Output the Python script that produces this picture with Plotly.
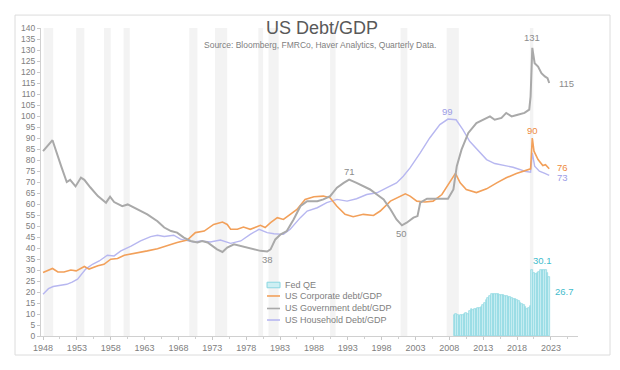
import plotly.graph_objects as go

# ---------------- data ----------------
gov_x = [1948.0, 1949.4, 1950.7, 1951.5, 1952.0, 1952.8, 1953.6, 1954.1, 1955.0, 1956.1,
         1957.3, 1957.9, 1958.5, 1959.2, 1959.7, 1960.5, 1961.4, 1962.4, 1963.4, 1964.9,
         1965.9, 1966.9, 1967.8, 1968.8, 1969.8, 1970.8, 1971.5, 1972.3, 1973.7, 1974.5,
         1975.2, 1976.2, 1977.2, 1978.1, 1979.1, 1980.1, 1981.1, 1981.6, 1982.3, 1983.1,
         1984.0, 1985.0, 1986.0, 1987.0, 1988.5, 1989.4, 1990.4, 1991.4, 1992.4, 1993.2,
         1994.3, 1995.3, 1996.3, 1997.3, 1998.3, 1999.3, 2000.2, 2001.0, 2001.7, 2002.7,
         2003.3, 2003.7, 2004.7, 2006.6, 2007.8, 2008.6, 2009.1, 2009.8, 2010.8, 2012.0,
         2013.0, 2014.0, 2014.7, 2015.7, 2016.4, 2017.2, 2018.1, 2019.1, 2019.8, 2020.0,
         2020.25, 2020.6, 2021.1, 2021.6, 2022.1, 2022.5, 2022.75]
gov_y = [84, 89, 77, 70, 71, 68, 72, 71, 67.5, 63.6,
         60.6, 63.3, 60.9, 59.8, 59.0, 59.8, 58.3, 56.8, 55.3, 52.2,
         49.3, 47.7, 47.0, 44.7, 43.2, 42.5, 43.2, 42.5, 39.4, 38.2,
         40.2, 41.7, 40.9, 40.2, 39.4, 38.7, 38.4, 39.4, 43.9, 46.2,
         47.7, 53.0, 59.0, 61.3, 61.3, 62.1, 63.6, 67.4, 69.6, 71.1,
         69.6, 68.1, 66.6, 64.3, 62.1, 57.6, 53.0, 50.3, 51.5, 53.8,
         54.5, 60.6, 62.4, 62.4, 62.4, 66.6, 77.2, 84.7, 92.3, 96.8,
         98.3, 99.8, 98.3, 99.1, 101.4, 99.8, 100.6, 101.4, 102.9, 108.9,
         131, 124, 122.5, 119.5, 118, 117.2, 115]

corp_x = [1948.0, 1949.4, 1950.2, 1951.1, 1952.1, 1952.9, 1954.1, 1954.8, 1956.1, 1957.0,
          1958.0, 1959.0, 1960.0, 1961.0, 1962.0, 1963.4, 1964.9, 1966.4, 1967.8, 1969.3,
          1970.5, 1971.8, 1973.2, 1974.5, 1975.2, 1975.7, 1976.7, 1977.6, 1978.6, 1980.1,
          1980.8, 1981.6, 1982.6, 1983.5, 1984.5, 1985.5, 1986.7, 1988.0, 1989.4, 1990.4,
          1991.4, 1992.6, 1993.8, 1995.3, 1996.8, 1997.8, 1999.3, 2000.7, 2001.5, 2002.2,
          2003.2, 2004.4, 2005.6, 2006.9, 2008.1, 2008.9, 2009.6, 2010.5, 2012.0, 2013.5,
          2015.0, 2016.4, 2017.9, 2019.6, 2020.0, 2020.25, 2020.5, 2021.1, 2021.8, 2022.2,
          2022.75]
corp_y = [28.9, 30.7, 29.1, 29.1, 30.0, 29.6, 31.6, 30.4, 31.9, 32.6,
          34.9, 35.2, 36.7, 37.2, 37.9, 38.7, 39.7, 41.2, 42.5, 43.6,
          47.0, 47.7, 50.7, 51.8, 50.7, 48.5, 48.5, 49.5, 48.5, 50.3,
          49.3, 51.5, 53.8, 53.0, 55.3, 57.5, 62.1, 63.3, 63.6, 62.8,
          59.0, 55.3, 54.2, 55.3, 54.8, 56.8, 61.3, 63.6, 64.6, 63.6,
          61.3, 60.9, 61.3, 64.3, 70.4, 73.9, 69.6, 66.6, 65.2, 66.9,
          69.6, 71.9, 73.9, 75.4, 76.0, 90, 84, 80.2, 77.5, 77.9,
          76]

hh_x = [1948.0, 1948.8, 1949.5, 1950.5, 1951.5, 1952.3, 1953.1, 1954.3, 1955.3, 1956.3,
        1957.5, 1958.5, 1959.5, 1961.0, 1962.4, 1963.9, 1964.9, 1965.9, 1967.3, 1968.3,
        1969.3, 1970.3, 1971.3, 1972.7, 1974.2, 1975.7, 1977.2, 1978.6, 1979.9, 1981.1,
        1982.1, 1983.5, 1984.5, 1986.0, 1987.0, 1988.5, 1989.9, 1991.4, 1992.9, 1994.3,
        1995.8, 1997.3, 1998.8, 2000.2, 2001.2, 2002.2, 2003.7, 2005.1, 2006.6, 2007.8,
        2009.0, 2010.0, 2011.0, 2012.3, 2013.5, 2014.7, 2016.2, 2017.4, 2018.4, 2019.1,
        2020.0, 2020.25, 2020.6, 2021.3, 2022.1, 2022.75]
hh_y = [19, 21.5, 22.5, 23, 23.5, 24.5, 25.8, 30.4, 32.6, 34.1,
        36.7, 36.4, 38.7, 40.9, 43.2, 45.2, 45.8, 45.2, 45.8, 44.0,
        43.2, 42.7, 43.2, 42.7, 43.6, 42.1, 43.2, 46.2, 48.5, 47.0,
        46.5, 46.2, 48.5, 53.8, 56.8, 58.3, 60.6, 62.1, 61.3, 62.4,
        64.3, 65.1, 67.4, 69.6, 72.6, 76.4, 83.2, 90.0, 96.1, 98.6,
        98.3, 93.8, 88.5, 84.0, 80.2, 78.4, 77.5, 76.7, 75.7, 74.9,
        74.5, 83.2, 77.2, 74.9, 73.9, 73]

qe_quarters = ["2008Q4",
               "2009Q1", "2009Q2", "2009Q3", "2009Q4", "2010Q1", "2010Q2", "2010Q3", "2010Q4",
               "2011Q1", "2011Q2", "2011Q3", "2011Q4", "2012Q1", "2012Q2", "2012Q3", "2012Q4",
               "2013Q1", "2013Q2", "2013Q3", "2013Q4", "2014Q1", "2014Q2", "2014Q3", "2014Q4",
               "2015Q1", "2015Q2", "2015Q3", "2015Q4", "2016Q1", "2016Q2", "2016Q3", "2016Q4",
               "2017Q1", "2017Q2", "2017Q3", "2017Q4", "2018Q1", "2018Q2", "2018Q3", "2018Q4",
               "2019Q1", "2019Q2", "2019Q3", "2019Q4", "2020Q1", "2020Q2", "2020Q3", "2020Q4",
               "2021Q1", "2021Q2", "2021Q3", "2021Q4", "2022Q1", "2022Q2", "2022Q3", "2022Q4"]
qe_vals = [9.5,
           9.8, 9.4, 9.2, 9.4, 9.6, 10.0, 10.4, 10.2,
           11.2, 12.2, 12.0, 12.1, 12.5, 12.8, 12.8, 13.0,
           14.0, 15.2, 16.5, 17.5, 18.4, 19.0, 19.3, 19.2,
           19.0, 18.9, 18.8, 18.6, 18.5, 18.3, 18.0, 17.8,
           17.6, 17.4, 17.0, 16.7, 16.2, 15.8, 15.2, 14.6,
           13.9, 13.2, 12.5, 12.8, 13.5, 30.2, 28.6, 28.0,
           28.6, 29.3, 29.8, 30.1, 30.1, 29.8, 28.8, 26.7]

# recession shading (start, end) as seen in the picture
recessions = [(1948.1, 1949.5), (1952.9, 1954.1), (1957.0, 1958.0), (1959.9, 1960.8),
              (1969.6, 1970.8), (1973.4, 1975.2), (1979.8, 1980.5), (1981.3, 1982.8),
              (1990.4, 1991.2), (2000.8, 2001.8), (2007.6, 2009.4), (2019.9, 2020.4)]

year_ticks = [1948, 1953, 1958, 1963, 1968, 1973, 1978, 1983, 1988, 1993, 1998, 2003, 2008,
              2013, 2018, 2023]

# ---------------- styling ----------------
FONT = "Liberation Sans, Arial, sans-serif"
GREY_TXT = "#808080"
C_GOV = "#a9a9a9"
C_CORP = "#f2a05a"
C_HH = "#b7b7f0"
C_QE_FILL = "#cdeff3"
C_QE_LINE = "#8ad7e1"
C_QE_TXT = "#3fbccc"

qe_x = [int(q[:4]) + (int(q[-1]) - 1) / 4 for q in qe_quarters]

fig = go.Figure()

fig.add_trace(go.Bar(x=qe_x, y=qe_vals, width=0.25, name="Fed QE",
                     marker=dict(color=C_QE_FILL, line=dict(color=C_QE_LINE, width=0.7)),
                     showlegend=False))
fig.add_trace(go.Scatter(x=hh_x, y=hh_y, mode="lines", name="US Household Debt/GDP",
                         line=dict(color=C_HH, width=1.4), showlegend=False))
fig.add_trace(go.Scatter(x=corp_x, y=corp_y, mode="lines", name="US Corporate debt/GDP",
                         line=dict(color=C_CORP, width=1.6), showlegend=False))
fig.add_trace(go.Scatter(x=gov_x, y=gov_y, mode="lines", name="US Government debt/GDP",
                         line=dict(color=C_GOV, width=2), showlegend=False))

shapes = []
for a, b in recessions:
    shapes.append(dict(type="rect", xref="x", yref="paper", x0=a, x1=b, y0=0, y1=1,
                       fillcolor="#f3f3f3", line=dict(width=0), layer="below"))
# outer frame
shapes.append(dict(type="rect", xref="paper", yref="paper", x0=-0.0484, x1=1.0596,
                   y0=-0.0617, y1=1.042, line=dict(color="#dcdcdc", width=1)))

# manual legend
leg_x0, leg_x1, txt_x = 0.4209, 0.4451, 0.4507
rows = [0.1656, 0.1299, 0.0893, 0.0519]
shapes.append(dict(type="rect", xref="paper", yref="paper", x0=leg_x0, x1=leg_x1,
                   y0=rows[0] - 0.009, y1=rows[0] + 0.009,
                   fillcolor=C_QE_FILL, line=dict(color=C_QE_LINE, width=1)))
for ry, col in zip(rows[1:], [C_CORP, C_GOV, C_HH]):
    shapes.append(dict(type="line", xref="paper", yref="paper", x0=leg_x0, x1=leg_x1,
                       y0=ry, y1=ry, line=dict(color=col, width=1.6)))

annotations = []
for ry, t in zip(rows, ["Fed QE", "US Corporate debt/GDP", "US Government debt/GDP",
                        "US Household Debt/GDP"]):
    annotations.append(dict(xref="paper", yref="paper", x=txt_x, y=ry, text=t,
                            showarrow=False, xanchor="left", yanchor="middle",
                            font=dict(size=9, color=GREY_TXT)))

# title / subtitle
annotations.append(dict(xref="paper", yref="paper", x=0.523, y=1.0, text="US Debt/GDP",
                        showarrow=False, xanchor="center", yanchor="middle",
                        font=dict(size=18, color="#595959")))
annotations.append(dict(xref="paper", yref="paper", x=0.52, y=0.944,
                        text="Source: Bloomberg, FMRCo, Haver Analytics, Quarterly Data.",
                        showarrow=False, xanchor="center", yanchor="middle",
                        font=dict(size=8.5, color=GREY_TXT)))

# data labels
def lab(x, y, text, color, xs=0, ys=0, xa="center"):
    annotations.append(dict(xref="x", yref="y", x=x, y=y, text=text, showarrow=False,
                            xanchor=xa, yanchor="middle", xshift=xs, yshift=ys,
                            font=dict(size=9.5, color=color)))

lab(2020.25, 131, "131", "#8c8c8c", ys=10)
lab(2022.75, 115, "115", "#8c8c8c", xs=8, xa="left")
lab(2020.25, 90, "90", "#ee8a3c", ys=8)
lab(2022.75, 76.5, "76", "#ee8a3c", xs=6, xa="left")
lab(2022.75, 72, "73", "#9c9ce6", xs=6, xa="left")
lab(2007.8, 98.6, "99", "#9c9ce6", ys=8)
lab(1993.2, 71.1, "71", "#8c8c8c", ys=8)
lab(2001.0, 50.3, "50", "#8c8c8c", ys=-8)
lab(1981.1, 38.4, "38", "#8c8c8c", ys=-8)
lab(2021.75, 30.1, "30.1", C_QE_TXT, ys=9)
lab(2022.75, 20.2, "26.7", C_QE_TXT, xs=4, xa="left")

# the page body adds an 8px offset, so the figure is 8px smaller and shifted
fig.update_layout(
    width=612, height=362,
    margin=dict(l=33, r=42, t=20, b=34),
    paper_bgcolor="white", plot_bgcolor="white",
    font=dict(family=FONT, color=GREY_TXT),
    bargap=0, showlegend=False,
    shapes=shapes, annotations=annotations,
    xaxis=dict(range=[1947.7, 2027], tickvals=year_ticks,
               ticktext=[str(y) for y in year_ticks],
               showline=True, linecolor="#d0d0d0", linewidth=1,
               ticks="outside", ticklen=3, tickcolor="#c8c8c8",
               minor=dict(dtick=2.5, tick0=1948, ticks="outside", ticklen=2, tickcolor="#d0d0d0"),
               tickfont=dict(size=9, color=GREY_TXT), showgrid=False, zeroline=False),
    yaxis=dict(range=[0, 140], dtick=5, tick0=0,
               showline=True, linecolor="#d0d0d0", linewidth=1,
               ticks="outside", ticklen=3, tickcolor="#c8c8c8",
               tickfont=dict(size=8.5, color=GREY_TXT), showgrid=False, zeroline=False),
)

fig.write_html("out.html")
